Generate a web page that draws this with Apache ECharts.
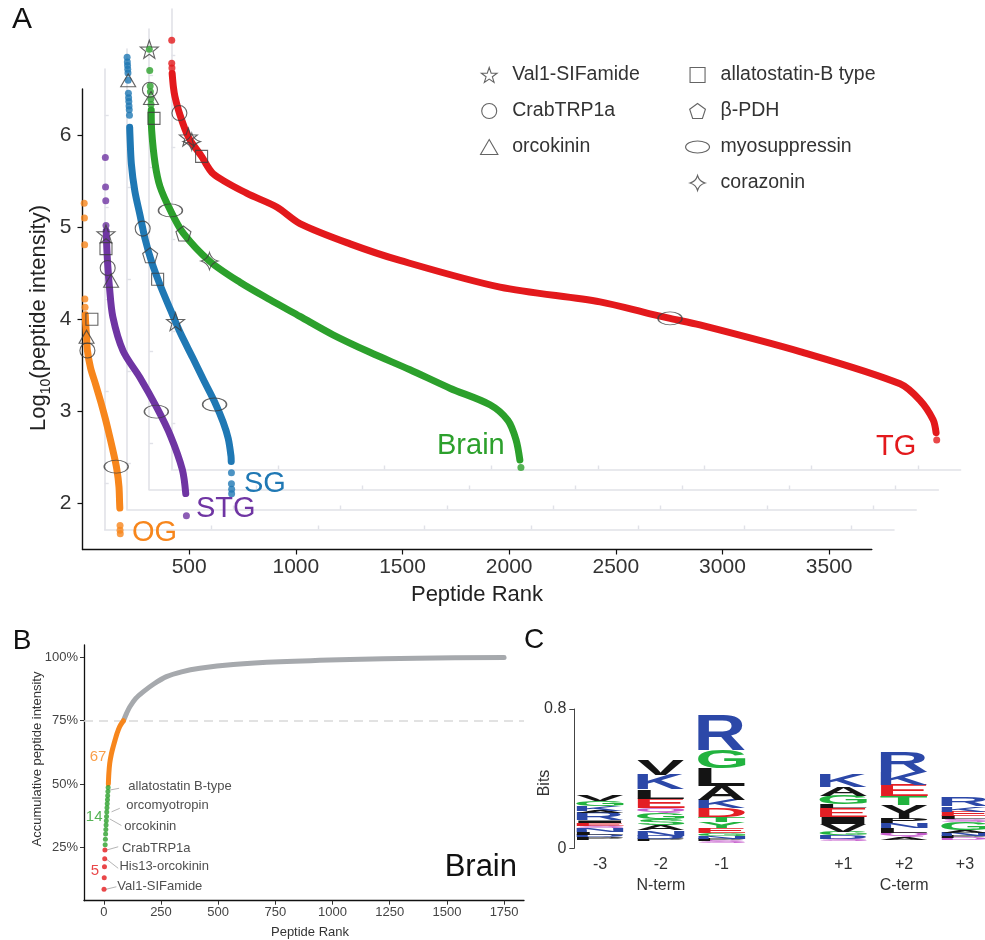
<!DOCTYPE html>
<html><head><meta charset="utf-8">
<script src="https://cdn.jsdelivr.net/npm/echarts@6/dist/echarts.min.js"></script>
<style>html,body{margin:0;padding:0;background:#fff}#c{width:985px;height:940px}</style>
</head><body><div id="c"></div>
<script>
// ================= Panel A data (rank, log10 intensity), each tissue in its own offset frame =================
const tissues = ['OG', 'STG', 'SG', 'Brain', 'TG'];
const tissueColors = ['#f7861c', '#6f35a3', '#1f78b4', '#2ca02c', '#e3191c'];
const xTicksA = [500, 1000, 1500, 2000, 2500, 3000, 3500];
const yTicksA = [2, 3, 4, 5, 6];

const ogLine = [[13,4.05],[15,3.95],[19,3.81],[23,3.66],[38,3.47],[62,3.29],[86,3.10],[107,2.92],[126,2.74],[145,2.55],[161,2.37],[171,2.18],[174,2.0],[175,1.95]];
const ogDots = [[8,5.26],[9,5.10],[10,4.81],[11,4.22],[12,4.13],[176,1.76],[176,1.71],[177,1.67]];
const stgLine = [[7,4.74],[10,4.55],[14,4.38],[22,4.14],[38,3.81],[86,3.44],[165,3.15],[245,2.82],[308,2.52],[364,2.15],[380,1.89]];
const stgDots = [[3,5.54],[4,5.22],[5,5.07],[6,4.80],[383,1.65]];
const sgLine = [[13,5.65],[14,5.58],[21,5.25],[37,4.96],[61,4.70],[85,4.44],[117,4.18],[157,3.93],[204,3.67],[252,3.41],[308,3.15],[363,2.89],[411,2.67],[451,2.45],[475,2.27],[488,2.08],[489,2.02]];
const sgDots = [[1,6.41],[2,6.36],[3,6.32],[4,6.28],[5,6.24],[6,6.16],[7,6.02],[8,5.97],[9,5.93],[10,5.88],[11,5.84],[12,5.78],[490,1.90],[490,1.78],[491,1.72],[491,1.67]];
const brainLine = [[10,5.62],[12,5.40],[28,5.04],[51,4.79],[100,4.53],[161,4.28],[283,3.98],[426,3.75],[567,3.56],[707,3.38],[862,3.18],[1035,2.99],[1223,2.80],[1410,2.60],[1598,2.42],[1682,2.25],[1720,2.04],[1738,1.82]];
const brainDots = [[1,6.28],[3,6.05],[5,5.88],[6,5.82],[8,5.74],[9,5.68],[1743,1.74]];
const tgLine = [[4,5.80],[10,5.65],[17,5.55],[38,5.37],[80,5.11],[142,4.90],[197,4.71],[353,4.50],[494,4.35],[603,4.17],[838,3.95],[1072,3.77],[1541,3.48],[2010,3.32],[2244,3.19],[2338,3.14],[2478,3.07],[2947,2.78],[3416,2.43],[3510,2.25],[3571,2.04],[3585,1.90]];
const tgDots = [[2,6.16],[2,5.91],[3,5.86],[3588,1.82]];
const tissueLines = [ogLine, stgLine, sgLine, brainLine, tgLine];
const tissueDots = [ogDots, stgDots, sgDots, brainDots, tgDots];

// peptide markers: [tissue index, rank, log10 intensity]
const peptideNames = ['Val1-SIFamide', 'CrabTRP1a', 'orcokinin', 'allatostatin-B type', 'β-PDH', 'myosuppressin', 'corazonin'];
const val1SifamidePts = [[1,6,4.71],[2,228,3.54],[3,1,6.28],[4,80,5.11]];
const crabTrp1aPts = [[0,23,3.66],[1,14,4.34],[2,74,4.55],[3,4,5.84],[4,38,5.37]];
const orcokininPts = [[0,19,3.81],[1,30,4.20],[2,6,6.16],[3,9,5.75]];
const allatostatinBPts = [[0,44,4.0],[1,6,4.55],[2,144,4.0],[3,23,5.53],[4,142,4.90]];
const betaPdhPts = [[2,109,4.26],[3,161,4.28]];
const myosuppressinPts = [[0,158,2.40],[1,242,2.78],[2,411,2.64],[3,100,4.53],[4,2338,3.14]];
const corazoninPts = [[3,283,3.98],[4,96,5.06]];
const peptidePts = [val1SifamidePts, crabTrp1aPts, orcokininPts, allatostatinBPts, betaPdhPts, myosuppressinPts, corazoninPts];

// ================= Panel B data =================
const bXTicks = [0, 250, 500, 750, 1000, 1250, 1500, 1750];
const bYTicks = [25, 50, 75, 100];
const bRedRanks = [1, 2, 3, 4, 5];
const bRedValues = [8.4, 13.0, 17.3, 20.5, 23.9];
const bGreenRanks = [6, 7, 8, 9, 10, 11, 12, 13, 14, 15, 16, 17, 18, 19];
const bGreenValues = [26.0, 28.2, 30.2, 32.0, 33.8, 35.5, 37.2, 38.9, 40.6, 42.2, 43.8, 45.4, 47.0, 48.6];
const bOrangeRanks = [20, 22, 26, 33, 41, 50, 58, 70, 86];
const bOrangeValues = [50.0, 54.0, 58.2, 61.8, 64.7, 67.6, 70.0, 72.8, 75.0];
const bGrayRanks = [86, 100, 114, 140, 172, 220, 274, 340, 420, 566, 770, 1076, 1368, 1750];
const bGrayValues = [75.0, 78.0, 80.5, 83.8, 86.4, 89.6, 92.4, 94.3, 95.7, 97.2, 98.3, 99.2, 99.7, 100];
const bThreshold = 75;
const bLabelNames = ['allatostatin B-type', 'orcomyotropin', 'orcokinin', 'CrabTRP1a', 'His13-orcokinin', 'Val1-SIFamide'];
const bLabelPos = [[105,48.9],[96,41.4],[87.5,33.1],[77,24.6],[66,17.6],[57,9.7]];
const bLeaderFrom = [[26,47.6],[34,39.0],[26,36.2],[12,23.9],[9,20.5],[9,8.4]];
const bLeaderTo = [[67,48.3],[70,40.4],[77,33.6],[63,25.2],[63,16.7],[55,9.4]];
const bGroupCounts = ['5', '14', '67'];
const bGroupPos = [[-39,15.8],[-42,36.9],[-25,60.8]];

// ================= Panel C data (sequence logo, bits) =================
const logoPositions = [1, 2, 3, 5, 6, 7];
const logoTickLabels = ['-3', '-2', '-1', '+1', '+2', '+3'];
const logoGroupLabels = {2: 'N-term', 6: 'C-term'};
const logoBase = [0.05, 0.04, 0.03, 0.04, 0.05, 0.048];
const logoLetters = ['PDLNSEIRAKGV', 'PDNASGQELKV', 'SPNGEYTDKALGR', 'SDGVIELGAK', 'AQLNPYTEKR', 'DPNAGSLEKR'];
const logoColors  = ['kbkbmrkbkbgk', 'kbbkggmrkbk', 'mkbgrggrbkkgb', 'mbgkkrkgkb', 'kmkbkkgrbb', 'mkbkgmkrbb'];
const logoHeights = [
  [0.015,0.013,0.015,0.024,0.012,0.016,0.015,0.040,0.014,0.028,0.030,0.036],
  [0.014,0.018,0.032,0.028,0.036,0.036,0.026,0.056,0.052,0.085,0.090],
  [0.012,0.014,0.016,0.018,0.026,0.036,0.030,0.048,0.048,0.078,0.105,0.105,0.200],
  [0.016,0.018,0.020,0.046,0.040,0.050,0.022,0.050,0.050,0.072],
  [0.016,0.024,0.026,0.028,0.026,0.080,0.050,0.064,0.076,0.120],
  [0.012,0.012,0.018,0.015,0.044,0.018,0.018,0.026,0.032,0.050]
];
const logoPalette = {k:'#141414', b:'#2c48a8', g:'#22b33f', r:'#e31e24', m:'#c55ccc'};

// ================= styling / geometry =================
const FONT = '"Liberation Sans", Arial, sans-serif';
const FRAME = {left: 82.5, top: 89, width: 789.3, height: 460.5, dx: 22.2, dy: 20};
const frameGray = '#e1e2e8';
const markerStroke = '#3d3d3d';
const starPath = 'path://M0,-10L2.35,-3.24L9.51,-3.09L3.8,1.24L5.88,8.09L0,4L-5.88,8.09L-3.8,1.24L-9.51,-3.09L-2.35,-3.24Z';
const trianglePath = 'path://M0,-10L8.66,5L-8.66,5Z';
const squarePath = 'path://M0,0L10,0L10,10L0,10Z';
const pentagonPath = 'path://M0,-10L9.51,-3.09L5.88,8.09L-5.88,8.09L-9.51,-3.09Z';
const ellipsePath = 'path://M0,5C0,2.24 4.48,0 10,0C15.52,0 20,2.24 20,5C20,7.76 15.52,10 10,10C4.48,10 0,7.76 0,5Z';
const star4Path = 'path://M0,-10Q2.2,-2.2 10,0Q2.2,2.2 0,10Q-2.2,2.2 -10,0Q-2.2,-2.2 0,-10Z';
const peptideSymbols = [starPath, 'circle', trianglePath, squarePath, pentagonPath, ellipsePath, star4Path];
const peptideSizes = [18, 15, [15, 13], 12, 15, [24, 13], 17];
const plain = v => String(v);

const grids = [], xAxes = [], yAxes = [], series = [];
tissues.forEach((t, k) => {
  const main = k === 0;
  const lineCol = main ? '#111' : frameGray;
  grids.push({left: FRAME.left + FRAME.dx * k, top: FRAME.top - FRAME.dy * k, width: FRAME.width, height: FRAME.height, containLabel: false, outerBoundsMode: 'none'});
  xAxes.push({gridIndex: k, type: 'value', min: 0, max: 3700,
    axisLine: {show: true, onZero: false, lineStyle: {color: lineCol, width: main ? 1.4 : 1.6}},
    axisTick: {show: true, inside: !main, length: main ? 5 : 4, customValues: xTicksA, lineStyle: {color: lineCol, width: main ? 1.2 : 1.4}},
    axisLabel: {show: main, customValues: xTicksA, fontSize: 21, color: '#333', margin: 7, fontFamily: FONT, formatter: plain},
    splitLine: {show: false}});
  yAxes.push({gridIndex: k, type: 'value', min: 1.5, max: 6.5,
    axisLine: {show: true, onZero: false, lineStyle: {color: lineCol, width: main ? 1.4 : 1.6}},
    axisTick: {show: true, inside: !main, length: main ? 5 : 4, customValues: yTicksA, lineStyle: {color: lineCol, width: main ? 1.2 : 1.4}},
    axisLabel: {show: main, customValues: yTicksA, fontSize: 21, color: '#333', margin: 11, fontFamily: FONT, formatter: plain},
    splitLine: {show: false}});
  series.push({type: 'line', xAxisIndex: k, yAxisIndex: k, data: tissueLines[k], symbol: 'none', z: 2, smooth: 0.3,
    lineStyle: {color: tissueColors[k], width: 7, cap: 'round', join: 'round'}, silent: true});
  series.push({type: 'scatter', xAxisIndex: k, yAxisIndex: k, data: tissueDots[k], symbolSize: 7, z: 2,
    itemStyle: {color: tissueColors[k]}, silent: true});
});
peptidePts.forEach((pts, p) => {
  tissues.forEach((t, k) => {
    const d = pts.filter(q => q[0] === k).map(q => [q[1], q[2]]);
    if (!d.length) return;
    series.push({type: 'scatter', name: peptideNames[p], xAxisIndex: k, yAxisIndex: k, data: d, z: 6,
      symbol: peptideSymbols[p], symbolSize: peptideSizes[p], silent: true,
      itemStyle: {color: 'rgba(0,0,0,0)', borderColor: markerStroke, borderWidth: 1.1}});
  });
});

// ---- Panel B ----
const GB = 5;
grids.push({left: 84, top: 645, width: 440, height: 255.7, containLabel: false, outerBoundsMode: 'none'});
xAxes.push({gridIndex: GB, type: 'value', min: -86.5, max: 1837,
  axisLine: {show: true, onZero: false, lineStyle: {color: '#111', width: 1.3}},
  axisTick: {show: true, length: 4, customValues: bXTicks, lineStyle: {color: '#333'}},
  axisLabel: {customValues: bXTicks, fontSize: 13, color: '#444', margin: 5, fontFamily: FONT, formatter: plain},
  splitLine: {show: false}});
yAxes.push({gridIndex: GB, type: 'value', min: 3.9, max: 104.9,
  axisLine: {show: true, onZero: false, lineStyle: {color: '#111', width: 1.3}},
  axisTick: {show: true, length: 4, customValues: bYTicks, lineStyle: {color: '#333'}},
  axisLabel: {customValues: bYTicks, fontSize: 13, color: '#444', margin: 6, fontFamily: FONT, formatter: v => v + '%'},
  splitLine: {show: false}});
const zip = (a, b) => a.map((v, i) => [v, b[i]]);
series.push({type: 'line', xAxisIndex: GB, yAxisIndex: GB, data: zip(bGrayRanks, bGrayValues), symbol: 'none', silent: true, z: 3, smooth: 0.3,
  lineStyle: {color: '#a6a9ad', width: 5, cap: 'round', join: 'round'},
  markLine: {silent: true, symbol: 'none', z: 1, label: {show: false}, lineStyle: {color: '#d9d9d9', width: 1.5, type: [9, 6]}, data: [{yAxis: bThreshold}]}});
series.push({type: 'line', xAxisIndex: GB, yAxisIndex: GB, data: zip(bOrangeRanks, bOrangeValues), symbol: 'none', silent: true, z: 3, smooth: 0.3,
  lineStyle: {color: '#f7861c', width: 5, cap: 'round', join: 'round'}});
series.push({type: 'scatter', xAxisIndex: GB, yAxisIndex: GB, data: zip(bGreenRanks, bGreenValues), symbolSize: 5, silent: true, z: 4, itemStyle: {color: '#2ca02c'}});
series.push({type: 'scatter', xAxisIndex: GB, yAxisIndex: GB, data: zip(bRedRanks, bRedValues), symbolSize: 5, silent: true, z: 4, itemStyle: {color: '#e3191c'}});
series.push({type: 'lines', coordinateSystem: 'cartesian2d', xAxisIndex: GB, yAxisIndex: GB, silent: true, z: 3,
  lineStyle: {color: '#b5b5b5', width: 1, opacity: 1},
  data: bLeaderFrom.map((f, i) => ({coords: [f, bLeaderTo[i]]}))});
series.push({type: 'scatter', xAxisIndex: GB, yAxisIndex: GB, symbol: 'circle', symbolSize: 1, silent: true, z: 5,
  itemStyle: {color: 'rgba(0,0,0,0)'},
  data: bLabelPos.map((p, i) => ({value: p, name: bLabelNames[i]})),
  label: {show: true, position: 'right', distance: 0, formatter: '{b}', fontSize: 13, color: '#222', fontFamily: FONT}});
const groupColors = ['#e3191c', '#2ca02c', '#f7861c'];
series.push({type: 'scatter', xAxisIndex: GB, yAxisIndex: GB, symbol: 'circle', symbolSize: 1, silent: true, z: 5,
  itemStyle: {color: 'rgba(0,0,0,0)'},
  data: bGroupPos.map((p, i) => ({value: p, name: bGroupCounts[i], label: {color: groupColors[i]}})),
  label: {show: true, position: 'inside', formatter: '{b}', fontSize: 15, fontFamily: FONT}});

// ---- Panel C ----
const GC = 6;
grids.push({left: 574.3, top: 709, width: 410.7, height: 139.3, containLabel: false, outerBoundsMode: 'none'});
xAxes.push({gridIndex: GC, type: 'value', min: 0.577, max: 7.33,
  axisLine: {show: false}, axisTick: {show: false}, splitLine: {show: false},
  axisLabel: {customValues: logoPositions, fontSize: 16, color: '#333', margin: 6, lineHeight: 21, fontFamily: FONT,
    formatter: v => { const i = logoPositions.indexOf(v); return logoTickLabels[i] + (logoGroupLabels[v] ? '\n' + logoGroupLabels[v] : ''); }}});
yAxes.push({gridIndex: GC, type: 'value', min: 0, max: 0.8,
  axisLine: {show: true, lineStyle: {color: '#444', width: 1}},
  axisTick: {show: true, length: 5, customValues: [0, 0.8], lineStyle: {color: '#444'}},
  axisLabel: {customValues: [0, 0.8], fontSize: 16, color: '#333', margin: 8, fontFamily: FONT, formatter: v => (v === 0 ? '0' : '0.8')},
  splitLine: {show: false}});

const logoData = [], logoMeta = [];
logoPositions.forEach((pos, c) => {
  let y = logoBase[c];
  logoHeights[c].forEach((h, j) => {
    logoData.push([pos, y, y + h]);
    logoMeta.push({ch: logoLetters[c][j], col: logoPalette[logoColors[c][j]]});
    y += h;
  });
});
const mctx = document.createElement('canvas').getContext('2d');
const LOGO_FONT = 'bold 100px "Liberation Sans"';
mctx.font = LOGO_FONT; mctx.textAlign = 'center'; mctx.textBaseline = 'middle';
const glyphCache = {};
function glyph(ch) {
  if (!glyphCache[ch]) {
    const m = mctx.measureText(ch);
    glyphCache[ch] = {l: m.actualBoundingBoxLeft, r: m.actualBoundingBoxRight, a: m.actualBoundingBoxAscent, d: m.actualBoundingBoxDescent};
  }
  return glyphCache[ch];
}
const LOGO_HALF_W = 0.39;
series.push({type: 'custom', xAxisIndex: GC, yAxisIndex: GC, data: logoData, silent: true, clip: false,
  renderItem: (params, api) => {
    const meta = logoMeta[params.dataIndex];
    const p0 = api.coord([api.value(0) - LOGO_HALF_W, api.value(1)]);
    const p1 = api.coord([api.value(0) + LOGO_HALF_W, api.value(2)]);
    const w = p1[0] - p0[0], h = p0[1] - p1[1];
    const g = glyph(meta.ch);
    const sx = w / (g.l + g.r), sy = Math.max(h, 0.3) / (g.a + g.d);
    const cx = (p0[0] + p1[0]) / 2, cy = (p0[1] + p1[1]) / 2;
    return {type: 'text', x: cx - sx * (g.r - g.l) / 2, y: cy - sy * (g.d - g.a) / 2, scaleX: sx, scaleY: sy,
      style: {text: meta.ch, font: LOGO_FONT, fill: meta.col, align: 'center', verticalAlign: 'middle'}};
  }});

// ---- legends (panel A) ----
const legendCommon = {orient: 'vertical', itemWidth: 24, itemHeight: 15, itemGap: 16, selectedMode: false, symbolKeepAspect: true,
  textStyle: {fontSize: 19.5, color: '#333', fontFamily: FONT, lineHeight: 20, padding: [0, 0, 0, 6]},
  itemStyle: {color: 'rgba(0,0,0,0)', borderColor: markerStroke, borderWidth: 1.1}};
const legends = [
  Object.assign({left: 475, top: 60, data: [0, 1, 2].map(i => ({name: peptideNames[i], icon: peptideSymbols[i]}))}, legendCommon),
  Object.assign({left: 680, top: 60, data: [3, 4, 5, 6].map(i => ({name: peptideNames[i], icon: peptideSymbols[i]}))}, legendCommon)
];

// ---- text annotations ----
function txt(x, y, text, size, color, opts) {
  opts = opts || {};
  return {type: 'text', x: x, y: y, rotation: opts.rotation || 0, silent: true, z: 10,
    style: {text: text, font: (opts.weight ? opts.weight + ' ' : '') + size + 'px ' + FONT, fill: color,
      align: opts.align || 'left', verticalAlign: 'middle'}};
}
const graphics = [
  txt(22, 20, 'A', 30, '#111', {align: 'center'}),
  txt(22, 641, 'B', 28, '#111', {align: 'center'}),
  txt(534, 640, 'C', 28, '#111', {align: 'center'}),
  txt(132, 533, 'OG', 29, tissueColors[0]),
  txt(196, 509, 'STG', 29, tissueColors[1]),
  txt(244, 484, 'SG', 29, tissueColors[2]),
  txt(437, 446, 'Brain', 29, tissueColors[3]),
  txt(876, 447, 'TG', 29, tissueColors[4]),
  txt(477, 595, 'Peptide Rank', 22, '#222', {align: 'center'}),
  {type: 'text', x: 39, y: 318, rotation: Math.PI / 2, silent: true, z: 10,
    style: {text: '{a|Log}{s|10}{a|(peptide intensity)}', align: 'center', verticalAlign: 'middle', fill: '#222', font: '22px ' + FONT,
      rich: {a: {fontSize: 22, lineHeight: 28, fontFamily: FONT, fill: '#222'}, s: {fontSize: 14, lineHeight: 14, verticalAlign: 'bottom', fontFamily: FONT, fill: '#222'}}}},
  txt(310, 932, 'Peptide Rank', 13, '#333', {align: 'center'}),
  txt(37.5, 759, 'Accumulative peptide intensity', 13, '#333', {rotation: Math.PI / 2, align: 'center'}),
  txt(517, 867, 'Brain', 31, '#111', {align: 'right'}),
  txt(545, 783, 'Bits', 16, '#333', {rotation: Math.PI / 2, align: 'center'})
];

const chart = echarts.init(document.getElementById('c'), null, {renderer: 'canvas'});
chart.setOption({
  animation: false,
  backgroundColor: '#fff',
  textStyle: {fontFamily: FONT},
  grid: grids, xAxis: xAxes, yAxis: yAxes,
  legend: legends,
  series: series,
  graphic: graphics
});
</script></body></html>
